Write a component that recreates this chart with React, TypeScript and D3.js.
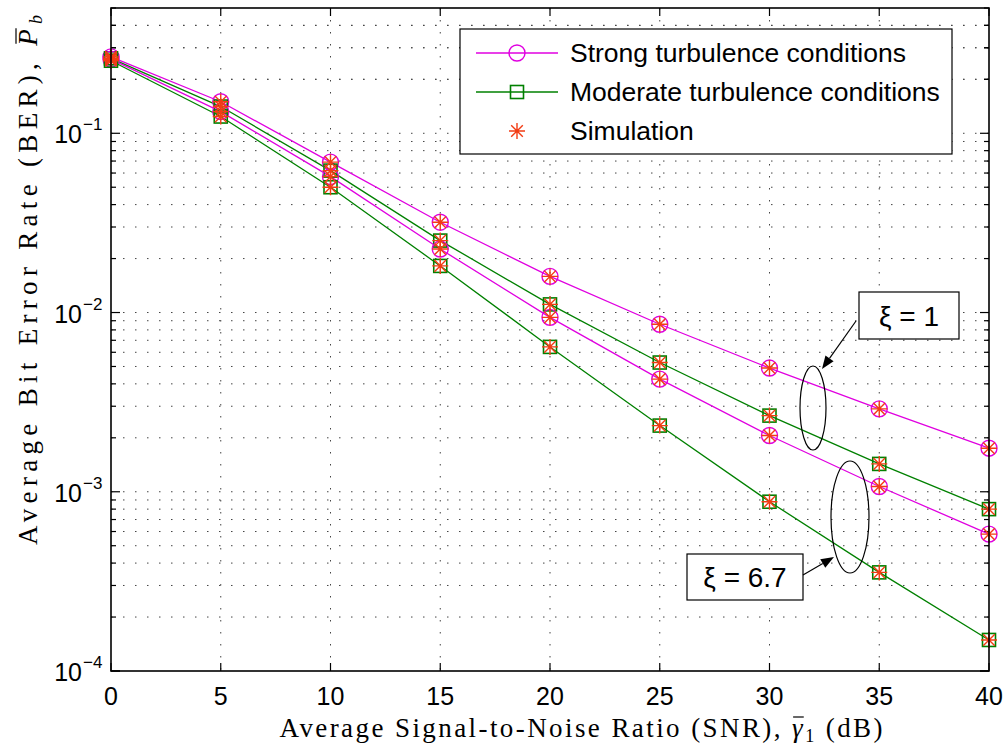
import React, { useEffect, useRef } from 'react';
import * as d3 from 'd3';

// ---------- data ----------
const snr = [0, 5, 10, 15, 20, 25, 30, 35, 40];
const strongXi1 = [0.267, 0.15, 0.069, 0.0319, 0.0159, 0.0086, 0.0049, 0.0029, 0.00175];
const moderateXi1 = [0.262, 0.141, 0.0619, 0.0252, 0.0111, 0.00526, 0.00266, 0.00143, 0.0008];
const strongXi67 = [0.259, 0.132, 0.0573, 0.0226, 0.0094, 0.00425, 0.00206, 0.00107, 0.00058];
const moderateXi67 = [0.254, 0.124, 0.05, 0.0182, 0.00643, 0.00234, 0.00088, 0.000355, 0.000149];

const xTicks = [0, 5, 10, 15, 20, 25, 30, 35, 40];
const yTickExponents = [-1, -2, -3, -4];
const legendLabels = ['Strong turbulence conditions', 'Moderate turbulence conditions', 'Simulation'];
const annotationLabels = ['ξ = 1', 'ξ = 6.7'];

const W = 1008;
const H = 749;
const MAGENTA = '#e000e0';
const GREEN = '#008000';
const STAR = '#f23c14';

export default function App() {
  const ref = useRef<SVGSVGElement>(null);

  useEffect(() => {
    const svg = d3.select(ref.current);
    svg.selectAll('*').remove();

    const L = 111, R = 989, T = 8, B = 671;
    const x = d3.scaleLinear().domain([0, 40]).range([L, R]);
    const y = d3.scaleLog().domain([1e-4, 0.5]).range([B, T]);

    svg.append('rect').attr('width', W).attr('height', H).attr('fill', '#fff');

    // grid
    const grid = svg.append('g').attr('stroke', '#444').attr('stroke-width', 1).attr('stroke-dasharray', '1.5 10.5');
    const yGridVals: number[] = [];
    for (let k = -4; k <= -1; k++) for (let m = 1; m <= 9; m++) yGridVals.push(m * Math.pow(10, k));
    yGridVals.push(0.2, 0.3, 0.4);
    yGridVals.filter(v => v > 1.0001e-4 && v < 0.4999).forEach(v => {
      grid.append('line').attr('x1', L).attr('x2', R).attr('y1', y(v)).attr('y2', y(v));
    });
    xTicks.filter(t => t > 0 && t < 40).forEach(t => {
      grid.append('line').attr('x1', x(t)).attr('x2', x(t)).attr('y1', T).attr('y2', B);
    });

    // ticks
    const ticks = svg.append('g').attr('stroke', '#000').attr('stroke-width', 1.2);
    xTicks.forEach(t => {
      ticks.append('line').attr('x1', x(t)).attr('x2', x(t)).attr('y1', B).attr('y2', B - 8);
      ticks.append('line').attr('x1', x(t)).attr('x2', x(t)).attr('y1', T).attr('y2', T + 8);
    });
    yGridVals.concat([1e-4]).forEach(v => {
      const major = Math.abs(Math.log10(v) - Math.round(Math.log10(v))) < 1e-6;
      const len = major ? 9 : 5;
      ticks.append('line').attr('x1', L).attr('x2', L + len).attr('y1', y(v)).attr('y2', y(v));
      ticks.append('line').attr('x1', R).attr('x2', R - len).attr('y1', y(v)).attr('y2', y(v));
    });

    // tick labels
    const tl = svg.append('g').attr('font-family', '"Liberation Sans", Arial, sans-serif').attr('fill', '#000');
    xTicks.forEach(t => {
      tl.append('text').attr('x', x(t)).attr('y', 705).attr('text-anchor', 'middle').attr('font-size', 25).text(String(t));
    });
    yTickExponents.forEach(e => {
      const yy = y(Math.pow(10, e));
      tl.append('text').attr('x', 82).attr('y', yy + 10).attr('text-anchor', 'end').attr('font-size', 25).text('10');
      tl.append('text').attr('x', 83).attr('y', yy - 3).attr('font-size', 17).text('−' + String(-e));
    });

    // curves
    const colorOf = (i: number) => (i === 0 ? MAGENTA : GREEN);
    const series = [
      { vals: strongXi1, color: colorOf(0), marker: 'circle' },
      { vals: moderateXi1, color: colorOf(1), marker: 'square' },
      { vals: strongXi67, color: colorOf(0), marker: 'circle' },
      { vals: moderateXi67, color: colorOf(1), marker: 'square' },
    ];
    const line = d3.line<number>().x((_, i) => x(snr[i])).y(d => y(d));
    const starPath = (cx: number, cy: number) => {
      const a = 8, b = 5.8;
      return `M${cx - a},${cy}L${cx + a},${cy}M${cx},${cy - a}L${cx},${cy + a}` +
        `M${cx - b},${cy - b}L${cx + b},${cy + b}M${cx - b},${cy + b}L${cx + b},${cy - b}`;
    };
    const drawMarker = (g: any, kind: string, cx: number, cy: number, color: string) => {
      if (kind === 'circle') {
        g.append('circle').attr('cx', cx).attr('cy', cy).attr('r', 8).attr('fill', 'none').attr('stroke', color).attr('stroke-width', 1.4);
      } else {
        g.append('rect').attr('x', cx - 6.5).attr('y', cy - 6.5).attr('width', 13).attr('height', 13).attr('fill', 'none').attr('stroke', color).attr('stroke-width', 1.6);
      }
    };
    const plot = svg.append('g');
    series.forEach(s => {
      plot.append('path').attr('d', line(s.vals)).attr('fill', 'none').attr('stroke', s.color).attr('stroke-width', 1.3);
    });
    series.forEach(s => {
      s.vals.forEach((v, i) => drawMarker(plot, s.marker, x(snr[i]), y(v), s.color));
    });
    series.forEach(s => {
      s.vals.forEach((v, i) => {
        plot.append('path').attr('d', starPath(x(snr[i]), y(v))).attr('stroke', STAR).attr('stroke-width', 1.4).attr('fill', 'none');
      });
    });

    // axes box
    svg.append('rect').attr('x', L).attr('y', T).attr('width', R - L).attr('height', B - T)
      .attr('fill', 'none').attr('stroke', '#000').attr('stroke-width', 1.6);

    // legend
    const lg = svg.append('g');
    lg.append('rect').attr('x', 460).attr('y', 29).attr('width', 492).attr('height', 125)
      .attr('fill', '#fff').attr('stroke', '#000').attr('stroke-width', 1.2);
    const rows = [53, 92, 131];
    const lgText = lg.append('g').attr('font-family', '"Liberation Sans", Arial, sans-serif').attr('font-size', 26.5).attr('fill', '#000');
    rows.forEach((ry, i) => {
      if (i < 2) {
        const c = colorOf(i);
        lg.append('line').attr('x1', 476).attr('x2', 558).attr('y1', ry).attr('y2', ry).attr('stroke', c).attr('stroke-width', 1.3);
        drawMarker(lg, i === 0 ? 'circle' : 'square', 517, ry, c);
      } else {
        lg.append('path').attr('d', starPath(517, ry)).attr('stroke', STAR).attr('stroke-width', 1.4);
      }
      lgText.append('text').attr('x', 570).attr('y', ry + 9).text(legendLabels[i]);
    });

    // annotations
    const an = svg.append('g');
    an.append('ellipse').attr('cx', 813).attr('cy', 408).attr('rx', 13).attr('ry', 42).attr('fill', 'none').attr('stroke', '#000').attr('stroke-width', 1.2);
    an.append('ellipse').attr('cx', 850).attr('cy', 517).attr('rx', 19).attr('ry', 56).attr('fill', 'none').attr('stroke', '#000').attr('stroke-width', 1.2);
    const boxes = [
      { x0: 859, y0: 292, x1: 959, y1: 339 },
      { x0: 687, y0: 554, x1: 803, y1: 600 },
    ];
    boxes.forEach((b, i) => {
      an.append('rect').attr('x', b.x0).attr('y', b.y0).attr('width', b.x1 - b.x0).attr('height', b.y1 - b.y0)
        .attr('fill', '#fff').attr('stroke', '#000').attr('stroke-width', 1.2);
      an.append('text').attr('x', (b.x0 + b.x1) / 2).attr('y', (b.y0 + b.y1) / 2 + 10).attr('text-anchor', 'middle')
        .attr('font-family', '"Liberation Sans", Arial, sans-serif').attr('font-size', 28).text(annotationLabels[i]);
    });
    const arrow = (x1: number, y1: number, x2: number, y2: number) => {
      const ang = Math.atan2(y2 - y1, x2 - x1);
      const hl = 13, hw = 5;
      const bx = x2 - hl * Math.cos(ang), by = y2 - hl * Math.sin(ang);
      an.append('line').attr('x1', x1).attr('y1', y1).attr('x2', bx).attr('y2', by).attr('stroke', '#000').attr('stroke-width', 1.2);
      const px = -Math.sin(ang) * hw, py = Math.cos(ang) * hw;
      an.append('path').attr('d', `M${x2},${y2}L${bx + px},${by + py}L${bx - px},${by - py}Z`).attr('fill', '#000');
    };
    arrow(856, 321, 822, 369);
    arrow(803, 575, 834, 557);

    // axis labels
    const serif = '"Liberation Serif", "DejaVu Serif", serif';
    const xg = svg.append('g');
    const xt = xg.append('text').attr('font-family', serif).attr('font-size', 27).attr('x', 0).attr('y', 737);
    xt.append('tspan').text('Average Signal-to-Noise Ratio (SNR), ');
    xt.append('tspan').attr('font-style', 'italic').text('γ');
    xt.append('tspan').attr('font-size', 18).attr('dy', 5).text('1');
    xt.append('tspan').attr('dy', -5).text(' (dB)');
    const xNode = xt.node() as SVGTextElement;
    const nX = xNode.getNumberOfChars();
    const natX = xNode.getComputedTextLength();
    const targetX = 603;
    const lsX = (targetX - natX) / (nX - 1);
    xt.attr('letter-spacing', lsX);
    const wX = xNode.getComputedTextLength() - lsX;
    xt.attr('x', 581 - wX / 2);
    const gIdx = 'Average Signal-to-Noise Ratio (SNR), '.length;
    const ge = xNode.getExtentOfChar(gIdx);
    xg.append('line').attr('x1', ge.x + 1).attr('x2', ge.x + ge.width - lsX + 1).attr('y1', ge.y + 4).attr('y2', ge.y + 4)
      .attr('stroke', '#000').attr('stroke-width', 1.2);

    const yg = svg.append('g').attr('transform', 'translate(37,280) rotate(-90)');
    const yt = yg.append('text').attr('font-family', serif).attr('font-size', 27).attr('x', 0).attr('y', 0);
    yt.append('tspan').text('Average Bit Error Rate (BER), ');
    yt.append('tspan').attr('font-style', 'italic').text('P');
    yt.append('tspan').attr('font-style', 'italic').attr('font-size', 18).attr('dy', 5).text('b');
    const yNode = yt.node() as SVGTextElement;
    const nY = yNode.getNumberOfChars();
    const natY = yNode.getComputedTextLength();
    const targetY = 530;
    const lsY = (targetY - natY) / (nY - 1);
    yt.attr('letter-spacing', lsY);
    const wY = yNode.getComputedTextLength() - lsY;
    yt.attr('x', -wY / 2);
    const pIdx = 'Average Bit Error Rate (BER), '.length;
    const pe = yNode.getExtentOfChar(pIdx);
    yg.append('line').attr('x1', pe.x + 2).attr('x2', pe.x + pe.width - lsY + 1).attr('y1', pe.y + 3).attr('y2', pe.y + 3)
      .attr('stroke', '#000').attr('stroke-width', 1.2);
  }, []);

  return <svg ref={ref} width={W} height={H} style={{ position: 'absolute', left: 0, top: 0, background: '#fff' }} />;
}
